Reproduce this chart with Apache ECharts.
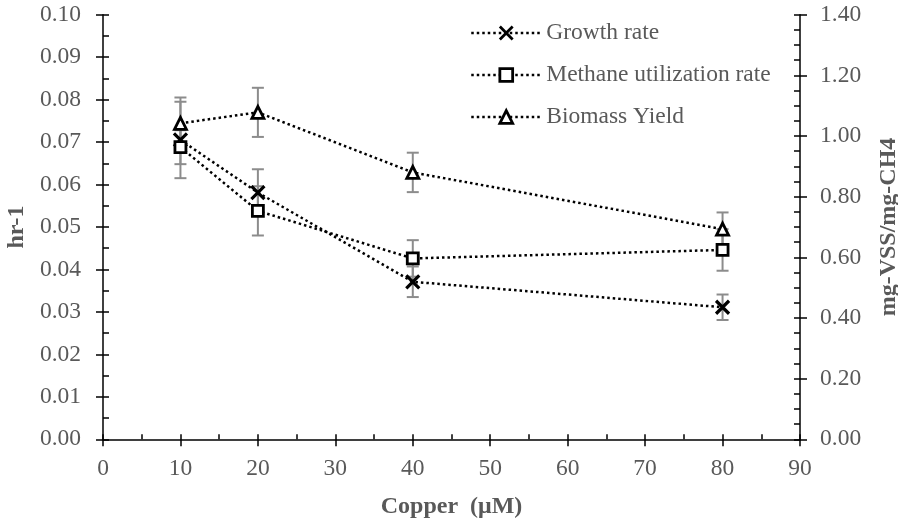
<!DOCTYPE html>
<html>
<head>
<meta charset="utf-8">
<script src="https://cdn.jsdelivr.net/npm/echarts@6/dist/echarts.min.js"></script>
<style>html,body{margin:0;padding:0;background:#fff}#c{width:898px;height:518px}</style>
</head>
<body>
<div id="c"></div>
<script>
// ---- data ----
const copper = [10, 20, 40, 80];
const growthRate = [0.0705, 0.0581, 0.0371, 0.0311];
const growthErr = [0.0090, 0.0055, 0.0036, 0.0030];
const methaneRate = [0.0688, 0.0538, 0.0426, 0.0446];
const methaneErr = [0.0040, 0.0058, 0.0043, 0.0049];
const biomassYield = [1.042, 1.078, 0.880, 0.693];
const biomassErr = [0.085, 0.081, 0.065, 0.055];
const seriesNames = ['Growth rate', 'Methane utilization rate', 'Biomass Yield'];
const xTitle = 'Copper  (μM)';
const yLeftTitle = 'hr-1';
const yRightTitle = 'mg-VSS/mg-CH4';

const FONT = '"Liberation Serif", "Times New Roman", serif';
const GRAY = '#595959';
const ERR = '#8c8c8c';

function pairs(ys) { return copper.map((x, i) => [x, ys[i]]); }
function triples(ys, es) { return copper.map((x, i) => [x, ys[i], es[i]]); }

function errRender(params, api) {
  const x = api.value(0), y = api.value(1), e = api.value(2);
  const hi = api.coord([x, y + e]);
  const lo = api.coord([x, y - e]);
  const w = 6;
  const st = { stroke: ERR, lineWidth: 2 };
  return {
    type: 'group',
    children: [
      { type: 'line', shape: { x1: hi[0], y1: hi[1], x2: lo[0], y2: lo[1] }, style: st },
      { type: 'line', shape: { x1: hi[0] - w, y1: hi[1], x2: hi[0] + w, y2: hi[1] }, style: st },
      { type: 'line', shape: { x1: lo[0] - w, y1: lo[1], x2: lo[0] + w, y2: lo[1] }, style: st }
    ]
  };
}

const axisLabel = { color: GRAY, fontFamily: FONT, fontSize: 23.5 };
const nameStyle = { color: GRAY, fontFamily: FONT, fontSize: 24, fontWeight: 'bold' };
const blackLine = { show: true, onZero: false, lineStyle: { color: '#000', width: 1.5 } };
const noLine = { show: false, onZero: false };
const tickLS = { color: '#000', width: 1.5 };
const dotted = { color: '#000', width: 2.5, type: [2.5, 3] };

const xBase = { type: 'value', min: 0, max: 90, interval: 10, splitLine: { show: false } };
const yLBase = { type: 'value', min: 0, max: 0.1, interval: 0.01, splitLine: { show: false } };
const yRBase = { type: 'value', min: 0, max: 1.4, interval: 0.2, splitLine: { show: false } };

const option = {
  animation: false,
  backgroundColor: '#fff',
  grid: { left: 103, right: 98, top: 14.7, bottom: 78.7, containLabel: false, outerBoundsMode: 'none' },
  legend: {
    orient: 'vertical',
    left: 465,
    top: 16,
    itemWidth: 70,
    itemHeight: 16,
    itemGap: 18,
    data: seriesNames,
    itemStyle: { borderWidth: 2.8, borderColor: '#000' },
    lineStyle: { width: 2.5, type: [2.5, 3], color: '#000' },
    textStyle: { color: GRAY, fontFamily: FONT, fontSize: 23.5 }
  },
  xAxis: [
    Object.assign({}, xBase, {
      position: 'bottom',
      name: xTitle, nameLocation: 'middle', nameGap: 55, nameTextStyle: nameStyle,
      axisLine: blackLine,
      axisTick: { show: true, inside: false, length: 7, lineStyle: tickLS },
      axisLabel: Object.assign({ margin: 18 }, axisLabel)
    }),
    Object.assign({}, xBase, {
      position: 'bottom',
      axisLine: noLine,
      axisTick: { show: true, inside: true, length: 5, lineStyle: tickLS },
      minorTick: { show: true, splitNumber: 2, length: 5, lineStyle: tickLS },
      axisLabel: { show: false }
    })
  ],
  yAxis: [
    Object.assign({}, yLBase, {
      position: 'left',
      name: yLeftTitle, nameLocation: 'middle', nameGap: 69, nameRotate: 90, nameTextStyle: nameStyle,
      axisLine: blackLine,
      axisTick: { show: true, inside: false, length: 7, lineStyle: tickLS },
      axisLabel: Object.assign({ margin: 22, formatter: v => v.toFixed(2) }, axisLabel)
    }),
    Object.assign({}, yRBase, {
      position: 'right',
      name: yRightTitle, nameLocation: 'middle', nameGap: 77, nameRotate: 90, nameTextStyle: nameStyle,
      axisLine: blackLine,
      axisTick: { show: true, inside: false, length: 7, lineStyle: tickLS },
      axisLabel: Object.assign({ margin: 20, formatter: v => v.toFixed(2) }, axisLabel)
    }),
    Object.assign({}, yLBase, {
      position: 'left',
      axisLine: noLine,
      axisTick: { show: true, inside: true, length: 6, lineStyle: tickLS },
      minorTick: { show: true, splitNumber: 2, length: 6, lineStyle: tickLS },
      axisLabel: { show: false }
    }),
    Object.assign({}, yRBase, {
      position: 'right',
      axisLine: noLine,
      axisTick: { show: true, inside: true, length: 6, lineStyle: tickLS },
      minorTick: { show: true, splitNumber: 4, length: 6, lineStyle: tickLS },
      axisLabel: { show: false }
    })
  ],
  series: [
    { type: 'custom', name: 'errG', xAxisIndex: 0, yAxisIndex: 0, z: 1, renderItem: errRender,
      encode: { x: 0, y: 1 }, data: triples(growthRate, growthErr), silent: true },
    { type: 'custom', name: 'errM', xAxisIndex: 0, yAxisIndex: 0, z: 1, renderItem: errRender,
      encode: { x: 0, y: 1 }, data: triples(methaneRate, methaneErr), silent: true },
    { type: 'custom', name: 'errB', xAxisIndex: 0, yAxisIndex: 1, z: 1, renderItem: errRender,
      encode: { x: 0, y: 1 }, data: triples(biomassYield, biomassErr), silent: true },
    {
      type: 'line', name: seriesNames[0], xAxisIndex: 0, yAxisIndex: 0, z: 3,
      data: pairs(growthRate),
      symbol: 'path://M0 0L10 10M10 0L0 10', symbolSize: 13,
      itemStyle: { color: '#000', borderColor: '#000', borderWidth: 3.2 },
      lineStyle: dotted
    },
    {
      type: 'line', name: seriesNames[1], xAxisIndex: 0, yAxisIndex: 0, z: 3,
      data: pairs(methaneRate),
      symbol: 'rect', symbolSize: 11,
      itemStyle: { color: '#fff', borderColor: '#000', borderWidth: 2.8 },
      lineStyle: dotted
    },
    {
      type: 'line', name: seriesNames[2], xAxisIndex: 0, yAxisIndex: 1, z: 3,
      data: pairs(biomassYield),
      symbol: 'triangle', symbolSize: 12,
      itemStyle: { color: '#fff', borderColor: '#000', borderWidth: 2.8 },
      lineStyle: dotted
    }
  ]
};

const chart = echarts.init(document.getElementById('c'), null, { renderer: 'canvas' });
chart.setOption(option);
</script>
</body>
</html>
